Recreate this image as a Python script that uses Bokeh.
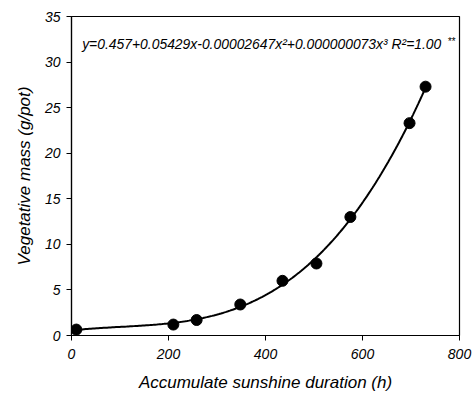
import numpy as np
from bokeh.plotting import figure
from bokeh.models import Label, Range1d, FixedTicker
from bokeh.embed import file_html
from bokeh.resources import INLINE

# data
sunshine_h = [10, 210, 258, 348, 435, 505, 575, 697, 730]
veg_mass = [0.65, 1.2, 1.7, 3.4, 6.0, 7.9, 13.0, 23.3, 27.3]
x_ticks = [0, 200, 400, 600, 800]
y_ticks = [0, 5, 10, 15, 20, 25, 30, 35]
equation = "y=0.457+0.05429x-0.00002647x\u00b2+0.000000073x\u00b3  R\u00b2=1.00"

# cubic fit through the read points for the trend curve
coef = np.polyfit(sunshine_h, veg_mass, 3)
xf = np.linspace(0, 730, 200)
yf = np.polyval(coef, xf)

FONT = "Liberation Sans"

p = figure(width=474, height=394, output_backend="svg", toolbar_location=None,
           x_range=Range1d(0, 800), y_range=Range1d(0, 35),
           min_border_left=71, min_border_right=15, min_border_top=16, min_border_bottom=58)
p.grid.visible = False
p.outline_line_color = "black"
p.outline_line_width = 1.2

p.line(xf, yf, line_color="black", line_width=2)
p.scatter(sunshine_h, veg_mass, size=11, color="black")

for ax in (p.xaxis[0], p.yaxis[0]):
    ax.axis_line_color = "black"
    ax.axis_line_width = 1.2
    ax.major_tick_line_color = "black"
    ax.major_tick_out = 5
    ax.major_tick_in = 0
    ax.minor_tick_line_color = None
    ax.major_label_text_font = FONT
    ax.major_label_text_font_style = "italic"
    ax.major_label_text_font_size = "14px"
    ax.major_label_text_color = "black"
    ax.axis_label_text_font = FONT
    ax.axis_label_text_font_style = "italic"
    ax.axis_label_text_font_size = "17px"
    ax.axis_label_text_color = "black"

p.xaxis.ticker = FixedTicker(ticks=x_ticks)
p.yaxis.ticker = FixedTicker(ticks=y_ticks)
p.xaxis.axis_label = "Accumulate sunshine duration (h)"
p.yaxis.axis_label = "Vegetative mass (g/pot)"
p.xaxis.major_label_standoff = 8
p.xaxis.axis_label_standoff = 11
p.yaxis.major_label_standoff = 6
p.yaxis.axis_label_standoff = 8

p.add_layout(Label(x=22, y=31.1, text=equation, text_font=FONT, text_font_style="italic",
                   text_font_size="13.9px", text_color="black"))
p.add_layout(Label(x=775, y=31.7, text="**",
                   text_font=FONT, text_font_style="italic", text_font_size="10px",
                   text_color="black"))

open("out.html", "w").write(file_html(p, INLINE))
